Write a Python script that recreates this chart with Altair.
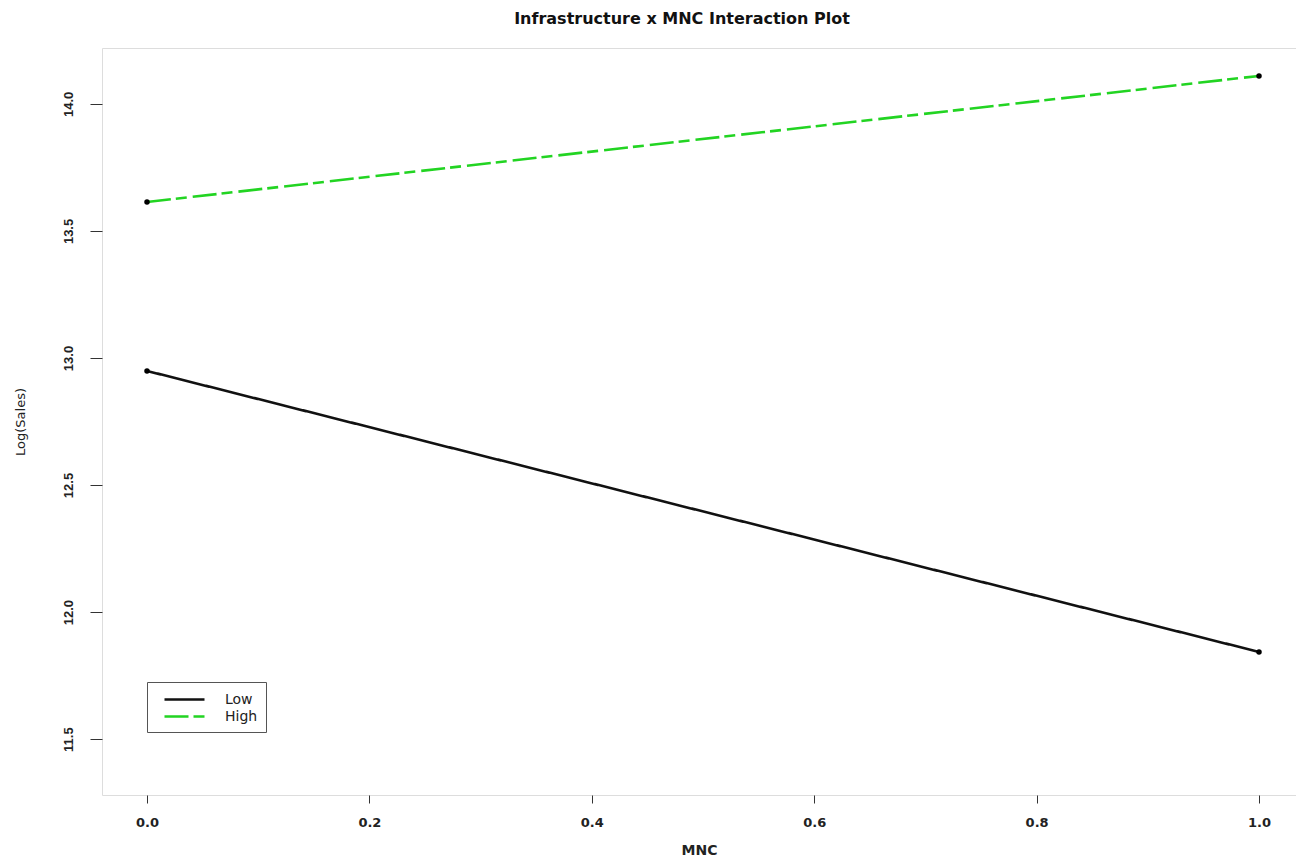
import altair as alt
import pandas as pd

mnc = [0.0, 1.0]
low_vals = [12.949, 11.843]
high_vals = [13.614, 14.110]
groups = ["Low", "High"]

x_ticks = [0.0, 0.2, 0.4, 0.6, 0.8, 1.0]
y_ticks = [11.5, 12.0, 12.5, 13.0, 13.5, 14.0]

rows = []
for g, vals in zip(groups, [low_vals, high_vals]):
    for m, v in zip(mnc, vals):
        rows.append({"MNC": m, "LogSales": v, "Infrastructure": g})
df = pd.DataFrame(rows)

FONT = "Liberation Sans"
WIDE = "DejaVu Sans"

x = alt.X("MNC:Q", scale=alt.Scale(domain=[-0.04047, 1.03327], nice=False, zero=False),
          axis=alt.Axis(values=x_ticks, format=".1f", title="MNC", grid=False, domain=False,
                        tickSize=8, tickColor="#333", labelPadding=13, labelFontSize=13,
                        labelFontWeight="bold", labelFont=WIDE, labelColor="#222",
                        titleFont=WIDE, titleFontSize=14, titleFontWeight="bold",
                        titlePadding=14, titleColor="#222"))
y = alt.Y("LogSales:Q", scale=alt.Scale(domain=[11.28, 14.22], nice=False, zero=False),
          axis=alt.Axis(values=y_ticks, format=".1f", title="Log(Sales)", grid=False, domain=False,
                        tickSize=12, tickColor="#333", labelPadding=15, labelFontSize=13,
                        labelFont=FONT, labelFontWeight="bold", labelColor="#222",
                        labelAngle=-90, labelAlign="center", labelBaseline="bottom",
                        titleFont=WIDE, titleFontSize=13, titleFontWeight="normal",
                        titleColor="#222", titlePadding=35))

color = alt.Color("Infrastructure:N",
                  scale=alt.Scale(domain=groups, range=["#111111", "#22d422"]),
                  legend=alt.Legend(title=None, orient="none", legendX=45, legendY=634,
                                    strokeColor="#555", padding=8,
                                    symbolType="M-2.5,0H2.5", symbolSize=256,
                                    symbolStrokeWidth=2.5, symbolOffset=20,
                                    labelFont=WIDE, labelFontSize=14, labelColor="#222",
                                    rowPadding=-1, labelOffset=31))
dash = alt.StrokeDash("Infrastructure:N",
                      scale=alt.Scale(domain=groups, range=[[1, 0], [24, 5, 11, 6]]),
                      legend=None)

lines = alt.Chart(df).mark_line(strokeWidth=2.6).encode(x=x, y=y, color=color, strokeDash=dash,
                                                        detail="Infrastructure:N")
points = alt.Chart(df).mark_point(filled=True, color="black", size=30, opacity=1).encode(
    x="MNC:Q", y="LogSales:Q")

chart = alt.layer(lines, points).properties(
    width=1194, height=747,
    title=alt.Title("Infrastructure x MNC Interaction Plot", font=WIDE, fontSize=16,
                    fontWeight="bold", offset=21, dx=-17, color="#111"),
    autosize=alt.AutoSizeParams(type="none"),
    padding={"left": 94, "top": 40, "right": 0, "bottom": 62},
).configure_view(stroke="#666", strokeWidth=1.5).configure(background="white")

chart.save("out.html", embed_options={"renderer": "svg", "actions": False})
